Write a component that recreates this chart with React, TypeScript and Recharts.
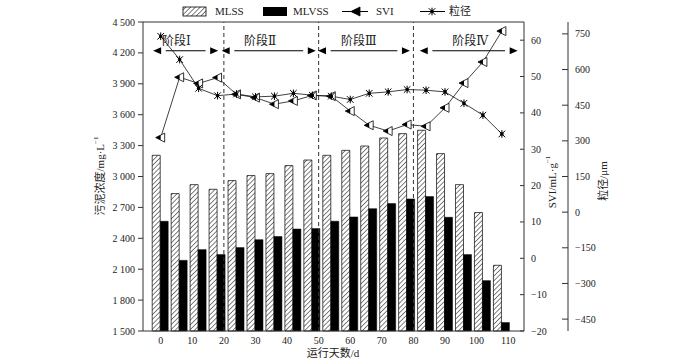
import React from 'react';
import {
  ComposedChart,
  Bar,
  Line,
  XAxis,
  YAxis,
  ReferenceLine,
  ReferenceDot,
} from 'recharts';

// sampling days and measured values
const days = [0, 6, 12, 18, 24, 30, 36, 42, 48, 54, 60, 66, 72, 78, 84, 90, 96, 102, 108];
const mlss = [3206, 2834, 2921, 2876, 2960, 3009, 3028, 3106, 3160, 3206, 3254, 3296, 3374, 3416, 3449, 3222, 2921, 2650, 2138];
const mlvss = [2565, 2186, 2290, 2242, 2310, 2387, 2417, 2490, 2494, 2566, 2607, 2688, 2737, 2782, 2805, 2604, 2242, 1989, 1582];
const svi = [33.2, 49.8, 48.1, 49.7, 45.1, 44.2, 42.4, 43.3, 44.8, 44.6, 40.5, 36.6, 35.0, 36.8, 36.3, 41.4, 48.2, 54.0, 62.5];
const particle = [740, 642, 521, 490, 497, 485, 488, 500, 492, 488, 474, 500, 506, 516, 513, 506, 458, 408, 329];

// axis ticks
const dayTicks = [0, 10, 20, 30, 40, 50, 60, 70, 80, 90, 100, 110];
const concTicks = [1500, 1800, 2100, 2400, 2700, 3000, 3300, 3600, 3900, 4200, 4500];
const sviTicks = [-20, -10, 0, 10, 20, 30, 40, 50, 60];
const particleTicks = [-450, -300, -150, 0, 150, 300, 450, 600, 750];

// stages
const stageNames = ['阶段Ⅰ', '阶段Ⅱ', '阶段Ⅲ', '阶段Ⅳ'];
const stageStart = [-2.4, 19.3, 49.8, 82];
const stageEnd = [18.2, 49.1, 78.9, 113];
const stageLabelAt = [5, 31.5, 62.7, 98];
const stageBounds = [20, 50, 80];
const ARROW_Y = 57.1;
const LABEL_Y = 59.8;

const FONT = "'Liberation Serif', 'DejaVu Serif', 'Noto Sans CJK SC', serif";
const INK = '#222';

const data = days.map((d, i) => ({
  day: d,
  mlss: mlss[i],
  mlvss: mlvss[i],
  svi: svi[i],
  particle: particle[i],
}));

const fmtConc = (v: number) =>
  v >= 1000 ? `${Math.floor(v / 1000)} ${String(v % 1000).padStart(3, '0')}` : String(v);
const fmtSigned = (v: number) => (v < 0 ? `−${Math.abs(v)}` : String(v));

function SviMark({ cx, cy, legend }: any) {
  if (cx == null || cy == null) return null;
  return (
    <g>
      <path
        d={`M${cx - 5},${cy} L${cx + 4},${cy - 4.5} L${cx + 4},${cy + 4.5} Z`}
        fill={legend ? '#000' : '#fff'}
        stroke="#000"
        strokeWidth={0.8}
      />
      <path d={`M${cx - 5},${cy} L${cx},${cy - 2.5} L${cx},${cy + 2.5} Z`} fill="#000" />
    </g>
  );
}

function StarMark({ cx, cy }: any) {
  if (cx == null || cy == null) return null;
  const s = 3.3;
  return (
    <g stroke="#000" strokeWidth={1}>
      <line x1={cx - s} y1={cy - s} x2={cx + s} y2={cy + s} />
      <line x1={cx - s} y1={cy + s} x2={cx + s} y2={cy - s} />
      <line x1={cx} y1={cy - s - 0.5} x2={cx} y2={cy + s + 0.5} />
      <circle cx={cx} cy={cy} r={1.3} fill="#000" />
    </g>
  );
}

function RightTick({ x, y, payload, len, gap }: any) {
  const ax = x - gap;
  return (
    <g>
      <line x1={ax - len} x2={ax} y1={y} y2={y} stroke="#333" strokeWidth={1} />
      <text x={x} y={y} dy={3.5} fontSize={10} fontFamily={FONT} fill={INK} textAnchor="start">
        {fmtSigned(payload.value)}
      </text>
    </g>
  );
}

const arrowHead = (dir: 'left' | 'right') => (p: any) => {
  const { cx, cy } = p;
  const d =
    dir === 'right'
      ? `M${cx},${cy} L${cx - 8},${cy - 3.5} L${cx - 8},${cy + 3.5} Z`
      : `M${cx},${cy} L${cx + 8},${cy - 3.5} L${cx + 8},${cy + 3.5} Z`;
  return <path d={d} fill="#000" />;
};

const stageLabel = (text: string) => (p: any) => (
  <text
    x={p.cx}
    y={p.cy}
    textAnchor="middle"
    dominantBaseline="central"
    fontSize={12}
    fontFamily={FONT}
    fill={INK}
  >
    {text}
  </text>
);

export default function App() {
  return (
    <div style={{ position: 'absolute', left: 0, top: 0, width: 700, height: 362, background: '#fff' }}>
      <svg width={0} height={0} style={{ position: 'absolute' }}>
        <defs>
          <pattern id="hatch" patternUnits="userSpaceOnUse" width={3.4} height={3.4} patternTransform="rotate(45)">
            <rect width={3.4} height={3.4} fill="#fff" />
            <line x1={0} y1={0} x2={0} y2={3.4} stroke="#000" strokeWidth={1} />
          </pattern>
        </defs>
      </svg>

      <ComposedChart
        width={700}
        height={362}
        data={data}
        margin={{ top: 22, right: 87, bottom: 11, left: 93 }}
        barGap={0}
      >
        <XAxis
          dataKey="day"
          type="number"
          domain={[-5.6, 115]}
          ticks={dayTicks}
          tickLine={false}
          tickSize={0}
          tickMargin={6}
          height={20}
          axisLine={{ stroke: '#333' }}
          tick={{ fontSize: 10, fontFamily: FONT, fill: INK }}
        />
        <YAxis
          yAxisId="left"
          orientation="left"
          domain={[1500, 4500]}
          ticks={concTicks}
          tickFormatter={fmtConc}
          width={50}
          tickSize={5}
          tickMargin={3}
          axisLine={{ stroke: '#333' }}
          tickLine={{ stroke: '#333' }}
          tick={{ fontSize: 10, fontFamily: FONT, fill: INK }}
        />
        <YAxis
          yAxisId="r2"
          orientation="right"
          domain={[-500, 800]}
          ticks={particleTicks}
          width={45}
          tickSize={0}
          tickMargin={7}
          tickLine={false}
          axisLine={{ stroke: '#333' }}
          tick={<RightTick len={6} gap={7} />}
        />
        <YAxis
          yAxisId="r1"
          orientation="right"
          domain={[-20, 65]}
          ticks={sviTicks}
          width={44}
          tickSize={0}
          tickMargin={7}
          tickLine={false}
          axisLine={{ stroke: '#333' }}
          tick={<RightTick len={4} gap={7} />}
        />

        <Bar yAxisId="left" dataKey="mlss" barSize={8} fill="url(#hatch)" stroke="#000" strokeWidth={0.7} isAnimationActive={false} />
        <Bar yAxisId="left" dataKey="mlvss" barSize={8} fill="#000" stroke="#000" strokeWidth={0.5} isAnimationActive={false} />

        <ReferenceLine yAxisId="left" y={4500} stroke="#333" strokeWidth={1} />
        {stageBounds.map((b) => (
          <ReferenceLine key={`b${b}`} yAxisId="left" x={b} stroke="#333" strokeWidth={1} strokeDasharray="4 3" />
        ))}
        {stageNames.map((name, i) => (
          <ReferenceLine
            key={`s${i}`}
            yAxisId="r1"
            segment={[
              { x: stageStart[i] + 4, y: ARROW_Y },
              { x: stageEnd[i] - 4, y: ARROW_Y },
            ]}
            stroke="#000"
            strokeWidth={1.1}
          />
        ))}
        {stageNames.map((name, i) => (
          <ReferenceDot key={`al${i}`} yAxisId="r1" x={stageStart[i]} y={ARROW_Y} r={0} shape={arrowHead('left')} />
        ))}
        {stageNames.map((name, i) => (
          <ReferenceDot key={`ar${i}`} yAxisId="r1" x={stageEnd[i]} y={ARROW_Y} r={0} shape={arrowHead('right')} />
        ))}
        {stageNames.map((name, i) => (
          <ReferenceDot key={`t${i}`} yAxisId="r1" x={stageLabelAt[i]} y={LABEL_Y} r={0} shape={stageLabel(name)} />
        ))}

        <Line
          yAxisId="r1"
          dataKey="svi"
          stroke="#111"
          strokeWidth={0.8}
          dot={<SviMark />}
          activeDot={false}
          isAnimationActive={false}
        />
        <Line
          yAxisId="r2"
          dataKey="particle"
          stroke="#111"
          strokeWidth={0.8}
          dot={<StarMark />}
          activeDot={false}
          isAnimationActive={false}
        />
      </ComposedChart>

      <svg
        width={700}
        height={362}
        style={{ position: 'absolute', left: 0, top: 0, pointerEvents: 'none' }}
        fontFamily={FONT}
        fill={INK}
      >
        {/* legend */}
        <rect x={183} y={7} width={23} height={9} fill="url(#hatch)" stroke="#000" strokeWidth={0.8} />
        <text x={215} y={15} fontSize={11}>MLSS</text>
        <rect x={263} y={7} width={24} height={9} fill="#000" />
        <text x={293} y={15} fontSize={11}>MLVSS</text>
        <line x1={342} x2={368} y1={11.5} y2={11.5} stroke="#000" strokeWidth={1} />
        <SviMark cx={356} cy={11.5} legend />
        <text x={376} y={15} fontSize={11}>SVI</text>
        <line x1={420} x2={445} y1={11.5} y2={11.5} stroke="#000" strokeWidth={1} />
        <StarMark cx={432} cy={11.5} />
        <text x={449} y={15} fontSize={11}>粒径</text>

        {/* axis titles */}
        <text x={100} y={176} fontSize={11} textAnchor="middle" dominantBaseline="central" transform="rotate(-90 100 176)">
          污泥浓度/mg·L<tspan dy={-4} fontSize={7}>−1</tspan>
        </text>
        <text x={552} y={182} fontSize={11} textAnchor="middle" dominantBaseline="central" transform="rotate(-90 552 182)">
          SVI/mL·g<tspan dy={-4} fontSize={7}>−1</tspan>
        </text>
        <text x={603} y={181} fontSize={11} textAnchor="middle" dominantBaseline="central" transform="rotate(-90 603 181)">
          粒径/μm
        </text>
        <text x={333} y={353} fontSize={11} textAnchor="middle" dominantBaseline="central">
          运行天数/d
        </text>
      </svg>
    </div>
  );
}
